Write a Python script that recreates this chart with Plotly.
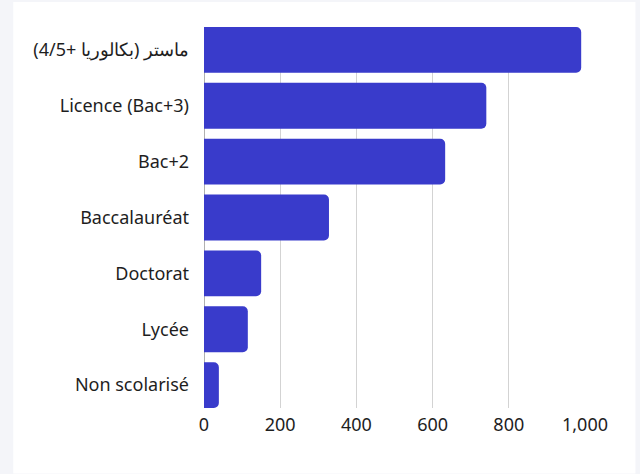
import plotly.graph_objects as go

# Education level counts, listed top to bottom
levels = [
    "ماستر (بكالوريا +4/5)",
    "Licence (Bac+3)",
    "Bac+2",
    "Baccalauréat",
    "Doctorat",
    "Lycée",
    "Non scolarisé",
]
counts = [990, 741, 633, 328, 150, 115, 39]
x_ticks = [0, 200, 400, 600, 800, 1000]
x_tick_labels = ["0", "200", "400", "600", "800", "1,000"]

W, H = 640, 474
ML, MR, MT, MB = 204, 54.5, 27, 65.5
BAR_W = 0.82

fig = go.Figure(
    go.Bar(
        x=counts,
        y=levels,
        orientation="h",
        width=BAR_W,
        marker=dict(color="#393bcb", line=dict(width=0)),
        hoverinfo="x+y",
    )
)

# white card on a light grey page
pw = W - ML - MR
ph = H - MT - MB
card_x0, card_x1 = 13, 636
card_y0, card_y1 = 2, H
fig.add_shape(
    type="rect",
    xref="paper", yref="paper",
    x0=(card_x0 - ML) / pw, x1=(card_x1 - ML) / pw,
    y0=(H - MB - card_y1) / ph, y1=(H - MB - card_y0) / ph,
    fillcolor="#ffffff", line=dict(width=0), layer="below",
)

fig.update_layout(
    width=W, height=H,
    margin=dict(l=ML, r=MR, t=MT, b=MB, pad=0),
    paper_bgcolor="#f4f5f9",
    plot_bgcolor="rgba(0,0,0,0)",
    font=dict(family="Noto Sans", size=18, color="#1e1e1e"),
    barcornerradius=5,
    showlegend=False,
)
fig.update_xaxes(
    range=[0, 1000],
    tickvals=x_ticks,
    ticktext=x_tick_labels,
    showgrid=True, gridcolor="#d3d3d3", gridwidth=1,
    zeroline=True, zerolinecolor="#b0b0b0", zerolinewidth=1,
    showline=False, ticks="", ticklabelstandoff=4,
)
fig.update_yaxes(
    type="category",
    categoryorder="array", categoryarray=levels,
    range=[len(levels) - 1 + BAR_W / 2, -BAR_W / 2],
    showgrid=False, zeroline=False, showline=False,
    ticks="", ticklabelstandoff=14,
)

fig.write_html("out.html")
